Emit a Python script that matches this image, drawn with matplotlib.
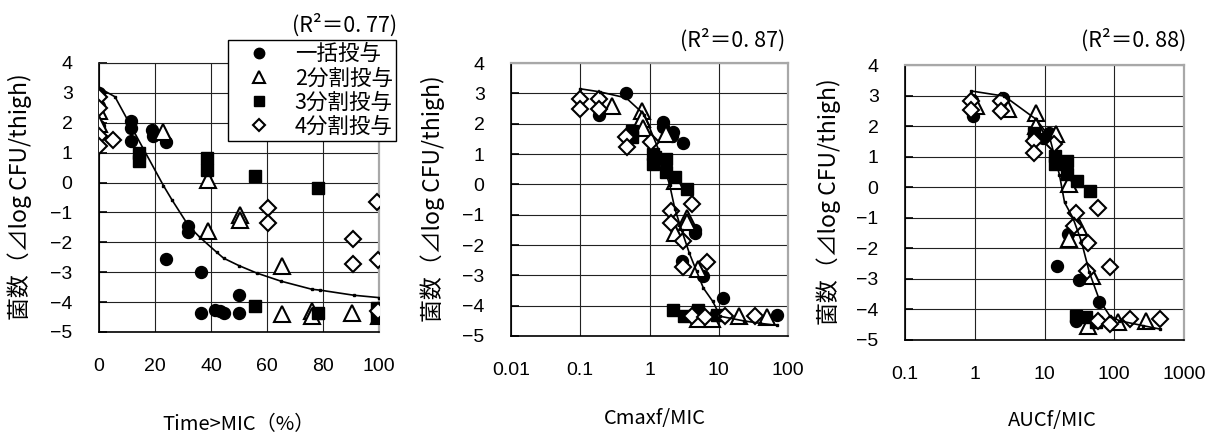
import matplotlib
matplotlib.use("Agg")
import matplotlib.pyplot as plt
from matplotlib.lines import Line2D
from matplotlib.ticker import NullLocator

plt.rcParams['font.family'] = ['Liberation Sans', 'Noto Sans CJK JP', 'DejaVu Sans']
JP = ['Noto Sans CJK JP', 'DejaVu Sans']

# series names
series_names = ['一括投与', '2分割投与', '3分割投与', '4分割投与']

# --- Time>MIC panel ---
t_bolus_x = [0, 0, 0, 11.3, 11.3, 11.3, 18.8, 19.3, 24, 31.9, 31.9, 23.9, 36.5, 36.5, 41.4, 43.2, 44.6, 50.1, 50.1, 100]
t_bolus_y = [3.0, 2.55, 1.9, 2.05, 1.83, 1.38, 1.77, 1.55, 1.35, -1.46, -1.65, -2.55, -3.0, -4.36, -4.27, -4.3, -4.36, -3.77, -4.36, -4.35]
t_div2_x = [0, 0, 22.8, 39, 39, 50.4, 50.4, 65.2, 65.2, 76, 76, 90.5, 100]
t_div2_y = [2.4, 1.95, 1.7, 0.1, -1.63, -1.07, -1.25, -2.8, -4.41, -4.3, -4.45, -4.36, -4.47]
t_div3_x = [14.3, 14.3, 38.7, 38.7, 55.7, 78.3, 55.7, 78.3, 99.2, 99.2]
t_div3_y = [1.0, 0.72, 0.83, 0.43, 0.23, -0.18, -4.14, -4.36, -4.2, -4.47]
t_div4_x = [0, 0, 0, 0, 5.1, 60.2, 60.2, 99.2, 90.8, 90.8, 99.8, 99.8]
t_div4_y = [2.85, 2.5, 1.55, 1.22, 1.42, -0.85, -1.35, -0.66, -1.88, -2.71, -2.58, -4.3]
t_fit_x = [0, 5.7, 23, 26, 32, 36, 42, 44.5, 50, 56.4, 65, 76, 79, 91, 100]
t_fit_y = [3.17, 2.87, -0.1, -0.57, -1.45, -1.83, -2.33, -2.53, -2.78, -3.03, -3.3, -3.57, -3.6, -3.77, -3.85]

# --- Cmaxf/MIC panel ---
c_bolus_x = [0.186, 0.457, 1.56, 1.56, 2.19, 2.1, 3.07, 4.54, 4.54, 2.9, 5.88, 11.5, 70, 5.5]
c_bolus_y = [2.3, 3.0, 2.05, 1.9, 1.72, 1.6, 1.36, -1.5, -1.6, -2.53, -3.03, -3.75, -4.3, -4.35]
c_div2_x = [0.29, 0.77, 0.77, 0.8, 1.75, 2.32, 3.43, 3.43, 2.32, 4.97, 19.5, 50.5, 5.0, 8.0]
c_div2_y = [2.58, 2.42, 2.15, 1.85, 1.66, 0.1, -1.1, -1.25, -1.6, -2.78, -4.35, -4.38, -4.45, -4.45]
c_div3_x = [0.56, 0.56, 1.12, 1.12, 1.75, 1.75, 2.32, 3.43, 2.19, 3.2, 5.1, 9.4]
c_div3_y = [1.77, 1.55, 1.0, 0.68, 0.83, 0.41, 0.24, -0.15, -4.15, -4.35, -4.15, -4.3]
c_div4_x = [0.1, 0.1, 0.186, 0.186, 0.457, 0.48, 1.06, 2.07, 4.06, 2.07, 3.07, 3.0, 6.7, 4.06, 6.3, 12.3, 33.6]
c_div4_y = [2.8, 2.47, 2.8, 2.47, 1.55, 1.22, 1.38, -0.88, -0.65, -1.28, -1.88, -2.72, -2.55, -4.35, -4.38, -4.35, -4.33]
c_fit_x = [0.1, 0.19, 0.46, 0.84, 1.4, 1.96, 2.32, 2.9, 3.76, 4.8, 6.0, 8.2, 10.5, 22.8, 39, 70]
c_fit_y = [3.15, 3.05, 2.85, 2.3, 1.06, -0.03, -0.8, -1.5, -2.27, -2.87, -3.42, -3.86, -4.35, -4.5, -4.58, -4.65]

# --- AUCf/MIC panel ---
a_bolus_x = [0.94, 0.9, 2.58, 11.5, 9.5, 21.6, 15.2, 31, 60, 28.5, 45]
a_bolus_y = [2.33, 2.85, 2.93, 1.78, 1.6, -1.54, -2.57, -3.04, -3.74, -4.37, -4.4]
a_div2_x = [1.05, 2.97, 7.6, 7.6, 14.7, 22.8, 31.6, 22.8, 48.3, 41.7, 112, 288]
a_div2_y = [2.65, 2.55, 2.44, 2.0, 1.73, 0.1, -1.3, -1.7, -2.9, -4.53, -4.4, -4.37]
a_div3_x = [7.0, 14.2, 14.2, 20.9, 20.9, 29.3, 44.2, 28.5, 39.6, 55]
a_div3_y = [1.78, 1.02, 0.75, 0.86, 0.42, 0.2, -0.12, -4.2, -4.26, -4.4]
a_div4_x = [0.87, 0.87, 2.34, 2.34, 7.0, 7.0, 13.9, 28.5, 58.2, 26.8, 41.7, 40.5, 85.7, 58.2, 85.7, 166, 447]
a_div4_y = [2.82, 2.52, 2.82, 2.5, 1.51, 1.13, 1.4, -0.83, -0.67, -1.27, -1.84, -2.74, -2.6, -4.37, -4.48, -4.31, -4.31]
a_fit_x = [0.89, 2.66, 7.6, 11.8, 16.4, 19.4, 25.5, 33.6, 44, 61.5, 85.7, 118, 258, 447]
a_fit_y = [3.15, 2.98, 2.22, 1.65, 0.4, -0.5, -1.0, -1.75, -2.79, -3.7, -4.2, -4.37, -4.53, -4.64]

y_ticks = [-5, -4, -3, -2, -1, 0, 1, 2, 3, 4]
t_ticks = [0, 20, 40, 60, 80, 100]
c_ticks = [0.01, 0.1, 1, 10, 100]
c_tick_labels = ['0.01', '0.1', '1', '10', '100']
a_ticks = [0.1, 1, 10, 100, 1000]
a_tick_labels = ['0.1', '1', '10', '100', '1000']

x_labels = ['Time>MIC（%）', 'Cmaxf/MIC', 'AUCf/MIC']
r2_labels = ['(R²＝0. 77)', '(R²＝0. 87)', '(R²＝0. 88)']
y_label = '菌数（⊿log CFU/thigh)'

W, H = 1216, 436
fig = plt.figure(figsize=(W / 100, H / 100), dpi=100)


def add_ax(left, top, right, bottom):
    return fig.add_axes([left / W, 1 - bottom / H, (right - left) / W, (bottom - top) / H])


def draw_panel(ax, xs, ys, fit_x, fit_y, top_gray=True):
    (bx, by), (d2x, d2y), (d3x, d3y), (d4x, d4y) = zip(xs, ys)
    ax.plot(bx, by, 'o', ms=8.6, color='black', mec='black', ls='none', zorder=3)
    ax.plot(d2x, d2y, '^', ms=11.5, mfc='white', mec='black', mew=1.5, ls='none', zorder=3)
    ax.plot(d3x, d3y, 's', ms=8.0, color='black', ls='none', zorder=3)
    ax.plot(d4x, d4y, 'D', ms=8.4, mfc='white', mec='black', mew=1.5, ls='none', zorder=3)
    ax.plot(fit_x, fit_y, '-', color='black', lw=1.2, marker='s', ms=1.8, zorder=4)
    ax.set_ylim(-5, 4)
    ax.set_yticks(y_ticks)
    ax.yaxis.set_minor_locator(NullLocator())
    ax.xaxis.set_minor_locator(NullLocator())
    ax.grid(True, color='#222222', lw=0.8)
    ax.set_axisbelow(True)
    ax.spines['left'].set_color('black')
    ax.spines['bottom'].set_color('black')
    ax.spines['left'].set_linewidth(1.2)
    ax.spines['bottom'].set_linewidth(1.2)
    ax.spines['right'].set_color('#a8a8a8')
    ax.spines['right'].set_linewidth(1.6)
    ax.spines['top'].set_color('#a8a8a8' if top_gray else '#222222')
    ax.spines['top'].set_linewidth(1.6 if top_gray else 0.8)
    ax.tick_params(axis='y', direction='in', length=6, width=1.2, pad=19, labelsize=14)
    ax.tick_params(axis='x', direction='in', length=0, pad=19, labelsize=14)


ax1 = add_ax(99, 63, 379, 332)
ax2 = add_ax(511, 63, 788, 336)
ax3 = add_ax(905, 65, 1184, 340)

draw_panel(ax1, [t_bolus_x, t_div2_x, t_div3_x, t_div4_x], [t_bolus_y, t_div2_y, t_div3_y, t_div4_y],
           t_fit_x, t_fit_y, top_gray=False)
ax1.set_xlim(0, 100)
ax1.set_xticks(t_ticks)

draw_panel(ax2, [c_bolus_x, c_div2_x, c_div3_x, c_div4_x], [c_bolus_y, c_div2_y, c_div3_y, c_div4_y],
           c_fit_x, c_fit_y)
ax2.set_xscale('log')
ax2.set_xlim(0.01, 100)
ax2.set_xticks(c_ticks, c_tick_labels)
ax2.xaxis.set_minor_locator(NullLocator())

draw_panel(ax3, [a_bolus_x, a_div2_x, a_div3_x, a_div4_x], [a_bolus_y, a_div2_y, a_div3_y, a_div4_y],
           a_fit_x, a_fit_y)
ax3.set_xscale('log')
ax3.set_xlim(0.1, 1000)
ax3.set_xticks(a_ticks, a_tick_labels)
ax3.xaxis.set_minor_locator(NullLocator())

# axis labels and R² notes
for xc, yc, lab in zip([239, 655, 1052], [425, 418, 420], x_labels):
    fig.text(xc / W, 1 - yc / H, lab, ha='center', va='center', fontsize=14.5, family=JP)
for xc, yc in zip([20, 433, 829], [197, 199, 202]):
    fig.text(xc / W, 1 - yc / H, y_label, ha='center', va='center', rotation=90, fontsize=16.5, family=JP)
for xc, yc, lab in zip([345, 733, 1134], [25, 40, 40], r2_labels):
    fig.text(xc / W, 1 - yc / H, lab, ha='center', va='center', fontsize=15.5, family=JP)

handles = [
    Line2D([], [], ls='none', marker='o', ms=7.5, color='black'),
    Line2D([], [], ls='none', marker='^', ms=8.5, mfc='white', mec='black', mew=1.5),
    Line2D([], [], ls='none', marker='s', ms=7, color='black'),
    Line2D([], [], ls='none', marker='D', ms=6.2, mfc='white', mec='black', mew=1.5),
]
leg = fig.legend(handles, series_names, loc='upper left', bbox_to_anchor=(228 / W, 1 - 40 / H),
                 borderaxespad=0, borderpad=0.15, handlelength=2.6, handletextpad=0.35,
                 labelspacing=0.1, fancybox=False, framealpha=1, edgecolor='black',
                 prop={'family': JP, 'size': 15.5})
leg.get_frame().set_linewidth(1.0)

fig.savefig('out.png', dpi=100)
